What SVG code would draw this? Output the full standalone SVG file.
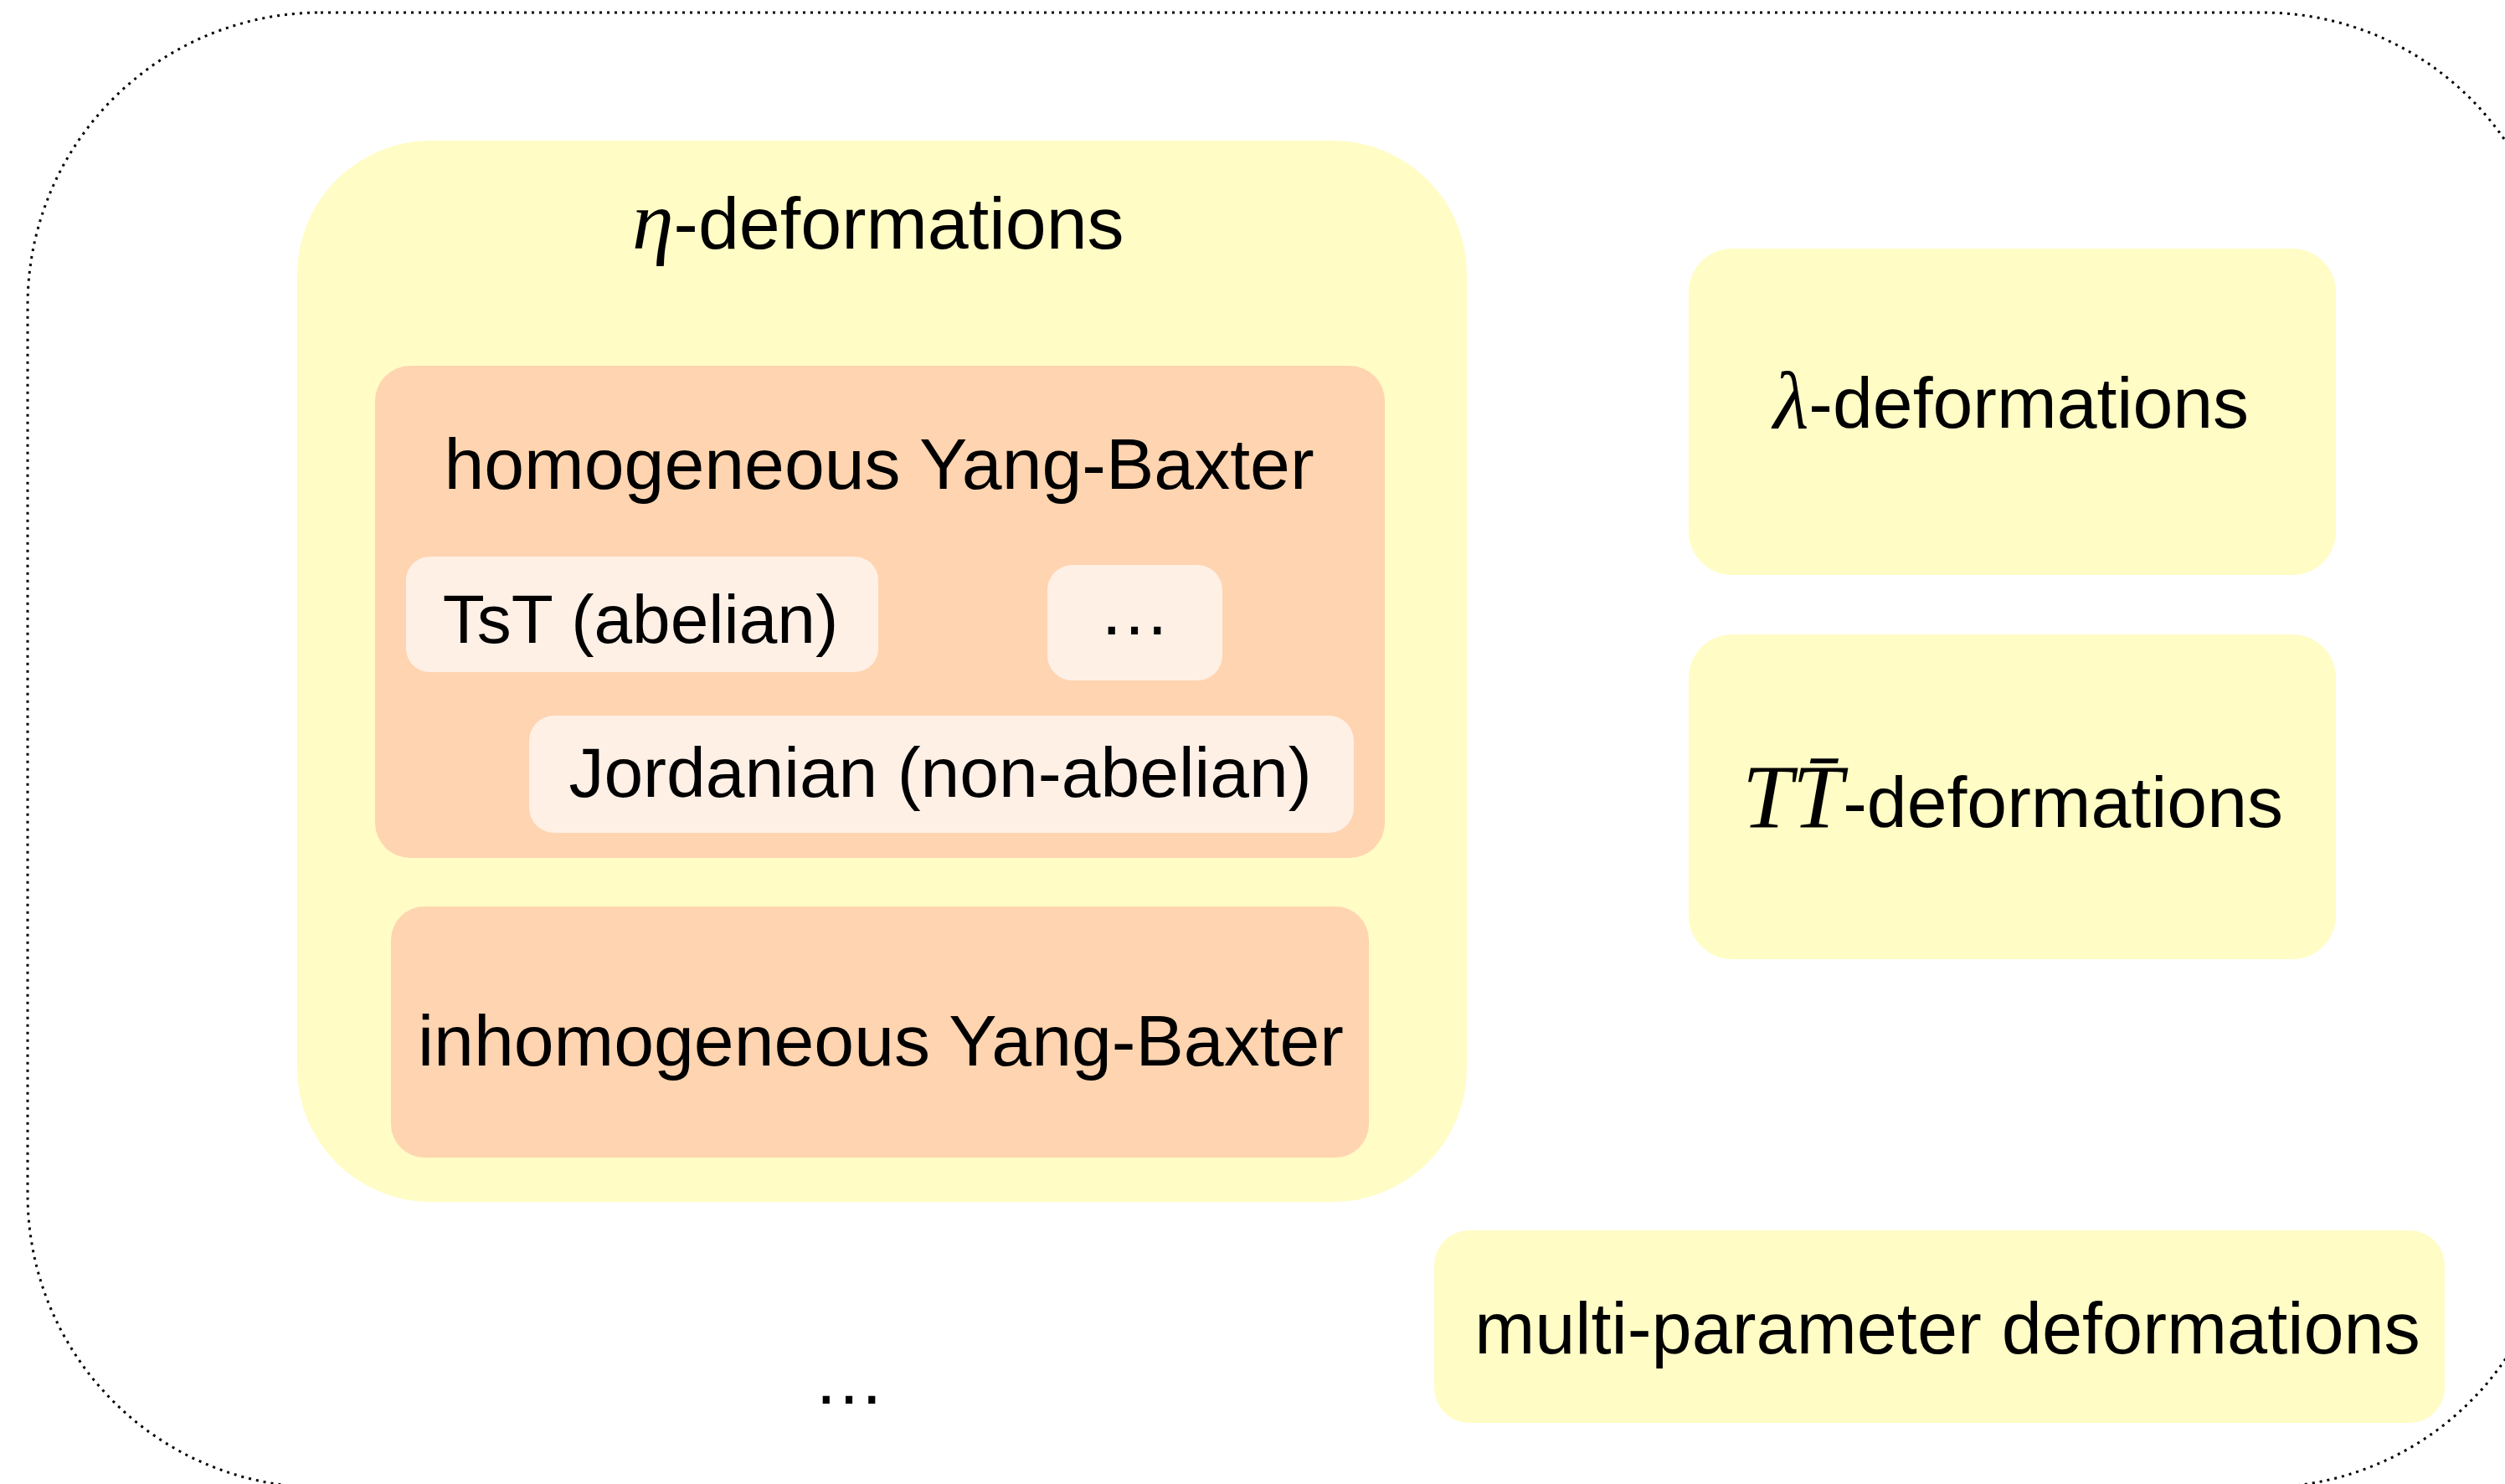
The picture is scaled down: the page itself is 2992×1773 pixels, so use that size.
<svg xmlns="http://www.w3.org/2000/svg" width="2992" height="1773" viewBox="0 0 2992 1773">
  <style>
    .frame { fill: none; stroke: #000; stroke-width: 3; stroke-dasharray: 3 6; }
    .yellow { fill: #FFFCC5; }
    .salmon { fill: #FFD4B0; }
    .cream { fill: #FFF0E6; }
    .lbl { font-family: "Liberation Sans", Arial, Helvetica, sans-serif; font-size: 86px; fill: #000; }
    .mid { text-anchor: middle; }
    .math { font-family: "Liberation Serif", "Times New Roman", serif; font-style: italic; font-size: 98px; }
  </style>

  <!-- dotted outer frame, partly running off the canvas -->
  <rect class="frame" x="33" y="15" width="3020" height="1762" rx="350" ry="350"/>

  <!-- eta-deformations family -->
  <g id="eta">
    <rect class="yellow" x="355" y="168" width="1397" height="1268" rx="160" ry="160"/>
    <text class="lbl" x="755" y="297" style="font-size:88px"><tspan class="math" style="font-size:100px">η</tspan>-deformations</text>
  </g>

  <g id="homogeneous-yb">
    <rect class="salmon" x="448" y="437" width="1206" height="588" rx="42" ry="42"/>
    <text class="lbl mid" x="1050" y="584">homogeneous Yang-Baxter</text>
  </g>

  <g id="tst">
    <rect class="cream" x="485" y="665" width="564" height="138" rx="28" ry="28"/>
    <text class="lbl mid" x="765" y="768" style="font-size:82px">TsT (abelian)</text>
  </g>

  <g id="more-homogeneous">
    <rect class="cream" x="1251" y="675" width="209" height="138" rx="30" ry="30"/>
    <text class="lbl mid" x="1355" y="758">…</text>
  </g>

  <g id="jordanian">
    <rect class="cream" x="632" y="855" width="985" height="140" rx="30" ry="30"/>
    <text class="lbl mid" x="1123" y="952" style="font-size:84px">Jordanian (non-abelian)</text>
  </g>

  <g id="inhomogeneous-yb">
    <rect class="salmon" x="467" y="1083" width="1168" height="300" rx="40" ry="40"/>
    <text class="lbl mid" x="1052" y="1273">inhomogeneous Yang-Baxter</text>
  </g>

  <!-- right-hand column -->
  <g id="lambda">
    <rect class="yellow" x="2017" y="297" width="773" height="390" rx="52" ry="52"/>
    <text class="lbl mid" x="2402" y="511"><tspan class="math">λ</tspan>-deformations</text>
  </g>

  <g id="ttbar">
    <rect class="yellow" x="2017" y="758" width="773" height="388" rx="52" ry="52"/>
    <text class="lbl mid" x="2404" y="988"><tspan class="math" style="font-size:108px">TT̄</tspan>-deformations</text>
  </g>

  <g id="multi-parameter">
    <rect class="yellow" x="1713" y="1470" width="1207" height="230" rx="42" ry="42"/>
    <text class="lbl mid" x="2326" y="1617" style="font-size:86.5px">multi-parameter deformations</text>
  </g>

  <g id="more">
    <text class="lbl mid" x="1014" y="1677">…</text>
  </g>

  <g id="connectors"/>
</svg>
